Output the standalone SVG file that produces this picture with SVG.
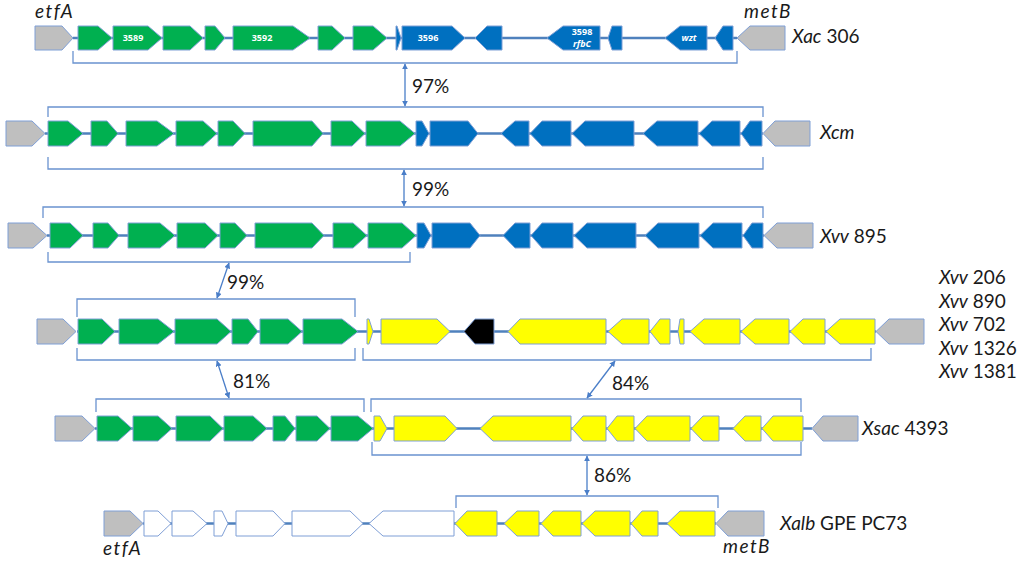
<svg xmlns="http://www.w3.org/2000/svg" width="1024" height="568" viewBox="0 0 1024 568">
<defs>
<style>
.bb{stroke:#4F81BD;stroke-width:2.5;fill:none}
.gn{stroke:#7F9FD6;stroke-width:1;stroke-linejoin:miter}
.g{fill:#00B050}.b{fill:#0070C0}.y{fill:#FFFF00}.k{fill:#000}.w{fill:#FFF}.gr{fill:#BFBFBF}
.br{stroke:#6A93D0;stroke-width:1.3;fill:none}
.ar{stroke:#4A7EC8;stroke-width:1.3;fill:none;marker-start:url(#ah);marker-end:url(#ah)}
.lb{font-family:Lato,"Open Sans",sans-serif;font-size:19px;fill:#1a1a1a}
.it{font-style:italic}
.gl{font-family:Lato,"Open Sans",sans-serif;font-size:19px;font-style:italic;letter-spacing:1.5px;fill:#1a1a1a}
.gt{font-family:"Open Sans",Lato,sans-serif;font-size:9px;font-weight:bold;fill:#fff;text-anchor:middle}
</style>
<marker id="ah" viewBox="0 0 10 10" refX="9" refY="5" markerWidth="6" markerHeight="6" orient="auto-start-reverse" markerUnits="userSpaceOnUse">
<path d="M0,0 L10,5 L0,10 Z" fill="#4A7EC8"/>
</marker>
</defs>
<rect width="1024" height="568" fill="#fff"/>

<g id="backbones">
<line class="bb" x1="73" y1="38" x2="737" y2="38"/>
<line class="bb" x1="45" y1="133.5" x2="763" y2="133.5"/>
<line class="bb" x1="47" y1="235.5" x2="764" y2="235.5"/>
<line class="bb" x1="77" y1="331.5" x2="876" y2="331.5"/>
<line class="bb" x1="95" y1="428.5" x2="812" y2="428.5"/>
<line class="bb" x1="143" y1="523.5" x2="716" y2="523.5"/>
</g>

<g id="row-xac306" class="gn">
<polygon class="gr" points="35,26 62,26 73,38 62,50 35,50"/>
<polygon class="g" points="78,26 98,26 112,38 98,50 78,50"/>
<polygon class="g" points="113,26 148,26 162,38 148,50 113,50"/>
<polygon class="g" points="163,26 190,26 203,38 190,50 163,50"/>
<polygon class="g" points="205,26 215,26 225,38 215,50 205,50"/>
<polygon class="g" points="233,26 293,26 310,38 293,50 233,50"/>
<polygon class="g" points="318,26 332,26 345,38 332,50 318,50"/>
<polygon class="g" points="353,26 373,26 387,38 373,50 353,50"/>
<polygon class="b" points="396,26 397,26 401,38 397,50 396,50"/>
<polygon class="b" points="402,26 452,26 465,38 452,50 402,50"/>
<polygon class="b" points="475,38 487,26 502,26 502,50 487,50"/>
<polygon class="b" points="547,38 563,26 600,26 600,50 563,50"/>
<polygon class="b" points="608,38 612,26 622,26 622,50 612,50"/>
<polygon class="b" points="665,38 680,26 707,26 707,50 680,50"/>
<polygon class="b" points="715,38 723,26 733,26 733,50 723,50"/>
<polygon class="gr" points="737,38 750,26 785,26 785,50 750,50"/>
</g>
<g id="gene-labels">
<text class="gt" x="133" y="41">3589</text>
<text class="gt" x="262" y="41">3592</text>
<text class="gt" x="428" y="41">3596</text>
<text class="gt" x="582" y="35">3598</text>
<text class="gt" x="582" y="47" font-style="italic">rfbC</text>
<text class="gt" x="689" y="41" font-style="italic">wzt</text>
</g>

<g id="row-xcm" class="gn">
<polygon class="gr" points="6,121 32,121 45,133.5 32,146 6,146"/>
<polygon class="g" points="48,121 68,121 83,133.5 68,146 48,146"/>
<polygon class="g" points="91,121 107,121 118,133.5 107,146 91,146"/>
<polygon class="g" points="126,121 157,121 174,133.5 157,146 126,146"/>
<polygon class="g" points="176,121 203,121 217,133.5 203,146 176,146"/>
<polygon class="g" points="218,121 233,121 245,133.5 233,146 218,146"/>
<polygon class="g" points="253,121 312,121 323,133.5 312,146 253,146"/>
<polygon class="g" points="331,121 352,121 365,133.5 352,146 331,146"/>
<polygon class="g" points="366,121 400,121 415,133.5 400,146 366,146"/>
<polygon class="b" points="416,121 422,121 429,133.5 422,146 416,146"/>
<polygon class="b" points="430,121 468,121 478,133.5 468,146 430,146"/>
<polygon class="b" points="501,133.5 515,121 529,121 529,146 515,146"/>
<polygon class="b" points="530,133.5 542,121 571,121 571,146 542,146"/>
<polygon class="b" points="572,133.5 585,121 634,121 634,146 585,146"/>
<polygon class="b" points="643,133.5 657,121 698,121 698,146 657,146"/>
<polygon class="b" points="699,133.5 712,121 740,121 740,146 712,146"/>
<polygon class="b" points="741,133.5 750,121 762,121 762,146 750,146"/>
<polygon class="gr" points="763,133.5 775,121 810,121 810,146 775,146"/>
</g>

<g id="row-xvv895" class="gn">
<polygon class="gr" points="8,223 33,223 47,235.5 33,248 8,248"/>
<polygon class="g" points="50,223 70,223 83,235.5 70,248 50,248"/>
<polygon class="g" points="93,223 108,223 119,235.5 108,248 93,248"/>
<polygon class="g" points="128,223 160,223 175,235.5 160,248 128,248"/>
<polygon class="g" points="177,223 205,223 218,235.5 205,248 177,248"/>
<polygon class="g" points="220,223 235,223 247,235.5 235,248 220,248"/>
<polygon class="g" points="255,223 312,223 324,235.5 312,248 255,248"/>
<polygon class="g" points="333,223 353,223 367,235.5 353,248 333,248"/>
<polygon class="g" points="368,223 402,223 416,235.5 402,248 368,248"/>
<polygon class="b" points="417,223 424,223 431,235.5 424,248 417,248"/>
<polygon class="b" points="432,223 470,223 480,235.5 470,248 432,248"/>
<polygon class="b" points="503,235.5 515,223 530,223 530,248 515,248"/>
<polygon class="b" points="531,235.5 542,223 573,223 573,248 542,248"/>
<polygon class="b" points="574,235.5 587,223 636,223 636,248 587,248"/>
<polygon class="b" points="645,235.5 658,223 699,223 699,248 658,248"/>
<polygon class="b" points="700,235.5 713,223 742,223 742,248 713,248"/>
<polygon class="b" points="743,235.5 752,223 763,223 763,248 752,248"/>
<polygon class="gr" points="764,235.5 777,223 813,223 813,248 777,248"/>
</g>

<g id="row-xvv206" class="gn">
<polygon class="gr" points="37,319 63,319 76,331.5 63,344 37,344"/>
<polygon class="g" points="78,319 102,319 115,331.5 102,344 78,344"/>
<polygon class="g" points="119,319 158,319 174,331.5 158,344 119,344"/>
<polygon class="g" points="175,319 217,319 231,331.5 217,344 175,344"/>
<polygon class="g" points="232,319 248,319 258,331.5 248,344 232,344"/>
<polygon class="g" points="260,319 288,319 302,331.5 288,344 260,344"/>
<polygon class="g" points="303,319 342,319 358,331.5 342,344 303,344"/>
<polygon class="y" points="367,319 369,319 373,331.5 369,344 367,344"/>
<polygon class="y" points="381,319 437,319 450,331.5 437,344 381,344"/>
<polygon class="k" points="464,331.5 475,319 494,319 494,344 475,344"/>
<polygon class="y" points="508,331.5 520,319 606,319 606,344 520,344"/>
<polygon class="y" points="608,331.5 622,319 649,319 649,344 622,344"/>
<polygon class="y" points="650,331.5 660,319 670,319 670,344 660,344"/>
<polygon class="y" points="678,331.5 680,319 684,319 684,344 680,344"/>
<polygon class="y" points="690,331.5 704,319 740,319 740,344 704,344"/>
<polygon class="y" points="741,331.5 755,319 789,319 789,344 755,344"/>
<polygon class="y" points="790,331.5 803,319 825,319 825,344 803,344"/>
<polygon class="y" points="826,331.5 840,319 875,319 875,344 840,344"/>
<polygon class="gr" points="876,331.5 889,319 924,319 924,344 889,344"/>
</g>

<g id="row-xsac4393" class="gn">
<polygon class="gr" points="55,416 82,416 95,428.5 82,441 55,441"/>
<polygon class="g" points="97,416 118,416 132,428.5 118,441 97,441"/>
<polygon class="g" points="133,416 158,416 172,428.5 158,441 133,441"/>
<polygon class="g" points="176,416 210,416 223,428.5 210,441 176,441"/>
<polygon class="g" points="224,416 253,416 267,428.5 253,441 224,441"/>
<polygon class="g" points="273,416 285,416 295,428.5 285,441 273,441"/>
<polygon class="g" points="296,416 317,416 330,428.5 317,441 296,441"/>
<polygon class="g" points="331,416 358,416 373,428.5 358,441 331,441"/>
<polygon class="y" points="374,416 380,416 387,428.5 380,441 374,441"/>
<polygon class="y" points="394,416 445,416 457,428.5 445,441 394,441"/>
<polygon class="y" points="480,428.5 493,416 571,416 571,441 493,441"/>
<polygon class="y" points="572,428.5 583,416 606,416 606,441 583,441"/>
<polygon class="y" points="607,428.5 617,416 634,416 634,441 617,441"/>
<polygon class="y" points="635,428.5 647,416 690,416 690,441 647,441"/>
<polygon class="y" points="691,428.5 703,416 719,416 719,441 703,441"/>
<polygon class="y" points="733,428.5 745,416 761,416 761,441 745,441"/>
<polygon class="y" points="762,428.5 773,416 803,416 803,441 773,441"/>
<polygon class="gr" points="812,428.5 823,416 858,416 858,441 823,441"/>
</g>

<g id="row-xalb" class="gn">
<polygon class="gr" points="104,511 130,511 143,523.5 130,536 104,536"/>
<polygon class="w" points="144,511 158,511 171,523.5 158,536 144,536"/>
<polygon class="w" points="172,511 193,511 207,523.5 193,536 172,536"/>
<polygon class="w" points="214,511 222,511 228,523.5 222,536 214,536"/>
<polygon class="w" points="236,511 273,511 285,523.5 273,536 236,536"/>
<polygon class="w" points="292,511 350,511 363,523.5 350,536 292,536"/>
<polygon class="w" points="369,523.5 383,511 454,511 454,536 383,536"/>
<polygon class="y" points="455,523.5 467,511 497,511 497,536 467,536"/>
<polygon class="y" points="504,523.5 517,511 539,511 539,536 517,536"/>
<polygon class="y" points="541,523.5 553,511 581,511 581,536 553,536"/>
<polygon class="y" points="582,523.5 595,511 630,511 630,536 595,536"/>
<polygon class="y" points="631,523.5 642,511 658,511 658,536 642,536"/>
<polygon class="y" points="667,523.5 680,511 715,511 715,536 680,536"/>
<polygon class="gr" points="716,523.5 728,511 764,511 764,536 728,536"/>
</g>

<g id="connectors">
<path class="br" d="M73,51 V63 H737 V51"/>
<path class="br" d="M48,117 V107 H763 V117"/>
<path class="br" d="M48,157 V169 H763 V157"/>
<path class="br" d="M43,218 V207 H763 V218"/>
<path class="br" d="M48,252 V262 H410 V252"/>
<path class="br" d="M77,317 V299 H355 V317"/>
<path class="br" d="M77,348 V360 H355 V348"/>
<path class="br" d="M363,348 V360 H871 V348"/>
<path class="br" d="M96,412 V399 H364 V412"/>
<path class="br" d="M371,412 V399 H801 V412"/>
<path class="br" d="M372,442 V455 H801 V442"/>
<path class="br" d="M456,508 V496 H718 V508"/>
<line class="ar" x1="405" y1="64" x2="405" y2="106"/>
<line class="ar" x1="404" y1="170" x2="404" y2="206"/>
<line class="ar" x1="229" y1="263" x2="217" y2="298"/>
<line class="ar" x1="217" y1="361" x2="229" y2="398"/>
<line class="ar" x1="615" y1="361" x2="587" y2="398"/>
<line class="ar" x1="587" y1="456" x2="587" y2="495"/>
</g>

<g id="labels">
<text class="gl" x="35" y="18">etfA</text>
<text class="gl" x="744" y="18">metB</text>
<text class="gl" x="103" y="555">etfA</text>
<text class="gl" x="723" y="553">metB</text>
<text class="lb" x="412" y="93">97%</text>
<text class="lb" x="412" y="196">99%</text>
<text class="lb" x="227" y="289">99%</text>
<text class="lb" x="233" y="388">81%</text>
<text class="lb" x="612" y="390">84%</text>
<text class="lb" x="594" y="482">86%</text>
<text class="lb" x="792" y="43"><tspan class="it">Xac</tspan> 306</text>
<text class="lb it" x="820" y="139">Xcm</text>
<text class="lb" x="820" y="243"><tspan class="it">Xvv</tspan> 895</text>
<text class="lb" x="939" y="284"><tspan class="it">Xvv</tspan> 206</text>
<text class="lb" x="939" y="308"><tspan class="it">Xvv</tspan> 890</text>
<text class="lb" x="939" y="331"><tspan class="it">Xvv</tspan> 702</text>
<text class="lb" x="939" y="355"><tspan class="it">Xvv</tspan> 1326</text>
<text class="lb" x="939" y="378"><tspan class="it">Xvv</tspan> 1381</text>
<text class="lb" x="862" y="435"><tspan class="it">Xsac</tspan> 4393</text>
<text class="lb" x="780" y="530"><tspan class="it">Xalb</tspan> GPE PC73</text>
</g>
</svg>
